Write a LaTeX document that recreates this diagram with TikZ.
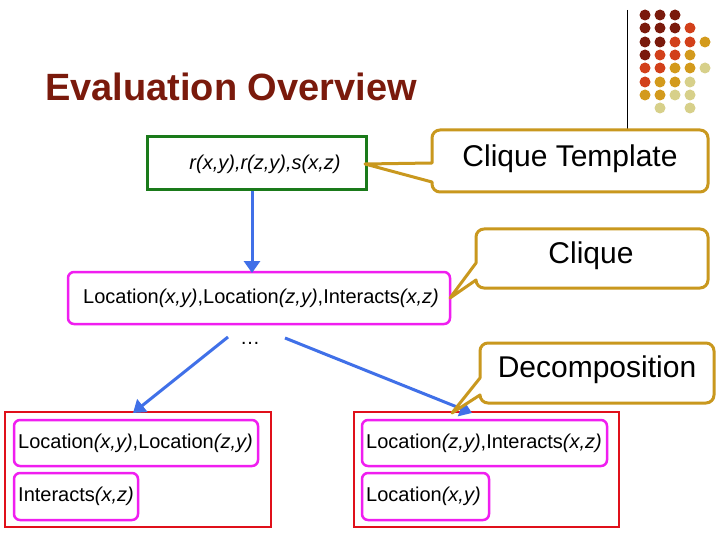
\documentclass[tikz,border=0pt]{standalone}
\usepackage{fontspec}
\setmainfont{Liberation Sans}
\usetikzlibrary{arrows.meta}
\definecolor{dred}{HTML}{7A1A0C}
\definecolor{ored}{HTML}{D2401A}
\definecolor{gold}{HTML}{D39A1C}
\definecolor{pale}{HTML}{D7D08A}
\definecolor{cgold}{HTML}{C9981E}
\definecolor{mag}{HTML}{F01EF0}
\definecolor{bblue}{HTML}{4070E8}
\definecolor{gbox}{HTML}{1A7A1A}
\definecolor{rbox}{HTML}{E0101A}
\tikzset{
 x=1pt,y=-1pt,
 txt/.style={font=\fontsize{20}{22}\selectfont,inner sep=0},
 ctxt/.style={font=\fontsize{30}{32}\selectfont,inner sep=0},
 magbox/.style={draw=mag,line width=2.5pt,rounded corners=6pt},
 callout/.style={draw=cgold,fill=white,line width=3pt,line join=round},
 arr/.style={draw=bblue,line width=3pt,-{Triangle[length=12pt,width=16pt]}},
 dot/.style={circle,minimum size=11pt,inner sep=0},
}
\begin{document}
\begin{tikzpicture}
\useasboundingbox (0,0) rectangle (720,540);
\fill[white] (0,0) rectangle (720,540);
% decoration
\draw[black,line width=0.8pt] (627,10) -- (627,130);
\foreach \r/\cols in {15/{1/dred,2/dred,3/dred},28/{1/dred,2/dred,3/dred,4/ored},42/{1/dred,2/dred,3/ored,4/ored,5/gold},55/{1/dred,2/ored,3/ored,4/gold},68/{1/ored,2/ored,3/gold,4/gold,5/pale},82/{1/ored,2/gold,3/gold,4/pale},95/{1/gold,2/gold,3/pale,4/pale},108/{2/pale,4/pale}}{
 \foreach \c/\col in \cols { \node[dot,fill=\col] (d\r\c) at (630+15*\c,\r) {}; }
}
\node[anchor=west,text=dred,font=\fontsize{38}{40}\selectfont\bfseries,inner sep=0] (title) at (45,87) {Evaluation Overview};
% green box
\draw[gbox,line width=3pt] (147,137) rectangle (366,190);
\node[txt,font=\fontsize{20}{22}\selectfont] (g) at (265,164) {\itshape r(x,y),r(z,y),s(x,z)};
% magenta main
\draw[magbox] (68,272) rectangle (450,324);
\node[txt] (m) at (261,298) {Location\textit{(x,y)},Location\textit{(z,y)},Interacts\textit{(x,z)}};
\coordinate (gb) at (252,191);
\coordinate (mt) at (252,273);
\draw[arr] (gb) -- (mt);
\node[font=\fontsize{20}{20}\selectfont] (dots) at (250,343) {\dots};
\coordinate (l0) at (228,337);
\coordinate (l1) at (133,413);
\coordinate (r0) at (285,338);
\coordinate (r1) at (472,413);
% red boxes
\draw[rbox,line width=2pt] (5,412) rectangle (271,527);
\draw[rbox,line width=2pt] (354,412) rectangle (619,527);
\draw[arr] (l0) -- (l1);
\draw[arr] (r0) -- (r1);
\draw[magbox] (14,420) rectangle (258,466);
\node[txt,anchor=west] (a) at (18,443) {Location\textit{(x,y)},Location\textit{(z,y)}};
\draw[magbox] (14,473) rectangle (138,520);
\node[txt,anchor=west] (b) at (18,496) {Interacts\textit{(x,z)}};
\draw[magbox] (362,420) rectangle (607,466);
\node[txt,anchor=west] (c) at (366,443) {Location\textit{(z,y)},Interacts\textit{(x,z)}};
\draw[magbox] (362,473) rectangle (489,520);
\node[txt,anchor=west] (d) at (366,496) {Location\textit{(x,y)}};
% callouts
\draw[callout] (432,163) [rounded corners=8pt] -- (432,130) -- (708,130) -- (708,192) -- (432,192) [sharp corners] -- (432,182) -- (365,164) -- cycle;
\node[ctxt] (ct) at (570,159) {Clique Template};
\draw[callout] (476,263) [rounded corners=8pt] -- (476,229) -- (708,229) -- (708,288) -- (476,288) [sharp corners] -- (476,280) -- (450,298) -- cycle;
\node[ctxt] (cq) at (591,256) {Clique};
\draw[callout] (480,378) [rounded corners=8pt] -- (480,343) -- (714,343) -- (714,403) -- (480,403) [sharp corners] -- (480,395) -- (452,413) -- cycle;
\node[ctxt] (dc) at (597,370) {Decomposition};
\end{tikzpicture}
\end{document}
